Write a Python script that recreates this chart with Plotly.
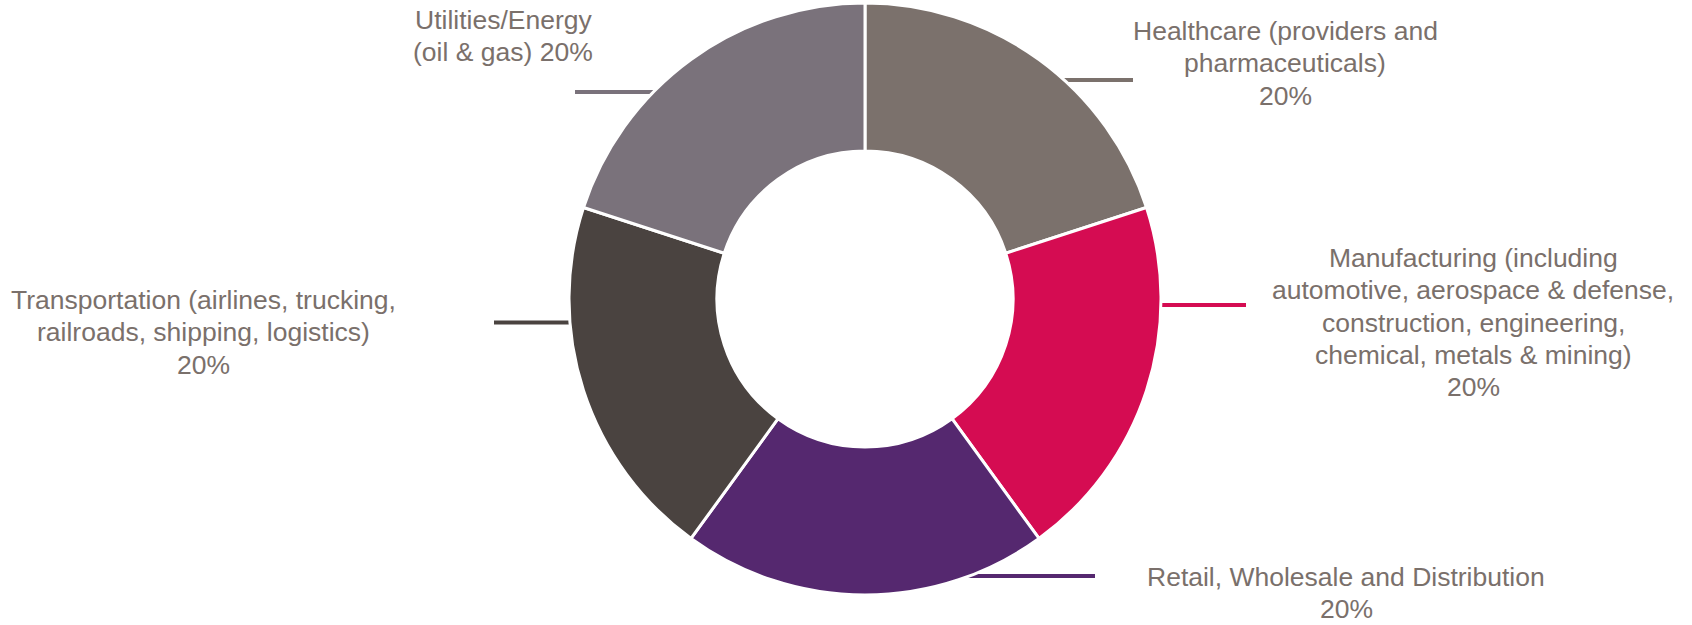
import plotly.graph_objects as go

W, H = 1692, 625

# Sector split of the portfolio
sectors = [
    "Healthcare (providers and pharmaceuticals)",
    "Manufacturing (including automotive, aerospace & defense, construction, engineering, chemical, metals & mining)",
    "Retail, Wholesale and Distribution",
    "Transportation (airlines, trucking, railroads, shipping, logistics)",
    "Utilities/Energy (oil & gas)",
]
shares = [20, 20, 20, 20, 20]

# Styling
colors = ["#7B716C", "#D50C52", "#55286F", "#4A4340", "#7A727B"]
TEXT_COLOR = "#7A706B"
FONT = "Liberation Sans, Arial, sans-serif"
FONT_SIZE = 26.5
LINE_STEP = 32.3

# Wrapped label text, "{pct}" is filled from the share values
label_lines = [
    ["Healthcare (providers and", "pharmaceuticals)", "{pct}"],
    ["Manufacturing (including", "automotive, aerospace & defense,",
     "construction, engineering,", "chemical, metals & mining)", "{pct}"],
    ["Retail, Wholesale and Distribution", "{pct}"],
    ["Transportation (airlines, trucking,", "railroads, shipping, logistics)", "{pct}"],
    ["Utilities/Energy", "(oil & gas) {pct}"],
]
# Label block placement in pixels: (centre x, first line centre y)
label_pos = [(1285, 31), (1473, 258), (1346, 577), (203, 300), (503, 20)]
# Leader lines in pixels: (y, x start, x end)
leaders = [(80, 1055, 1133), (305, 1150, 1246), (576, 965, 1095),
           (322.5, 494, 580), (92, 575, 665)]

# Donut geometry in pixels
CX, CY, R = 865, 299, 296

total = sum(shares)
pcts = [f"{round(100 * v / total)}%" for v in shares]

fig = go.Figure(
    go.Pie(
        labels=sectors,
        values=shares,
        hole=0.5,
        sort=False,
        direction="clockwise",
        rotation=0,
        textinfo="none",
        hoverinfo="label+percent",
        marker=dict(colors=colors, line=dict(color="white", width=3)),
        domain=dict(
            x=[(CX - R) / W, (CX + R) / W],
            y=[1 - (CY + R) / H, 1 - (CY - R) / H],
        ),
    )
)

def px(x):
    return x / W

def py(y):
    return 1 - y / H

annotations = []
shapes = []
for lines, (lx, ly), (yl, x0, x1), color, pct in zip(label_lines, label_pos, leaders, colors, pcts):
    for i, line in enumerate(lines):
        annotations.append(dict(
            x=px(lx), y=py(ly + i * LINE_STEP), xref="paper", yref="paper",
            text=line.replace("{pct}", pct), showarrow=False,
            xanchor="center", yanchor="middle",
            font=dict(family=FONT, size=FONT_SIZE, color=TEXT_COLOR),
        ))
    shapes.append(dict(
        type="line", xref="paper", yref="paper", layer="below",
        x0=px(x0), x1=px(x1), y0=py(yl), y1=py(yl),
        line=dict(color=color, width=4),
    ))

fig.update_layout(
    width=W, height=H,
    margin=dict(l=0, r=0, t=0, b=0),
    paper_bgcolor="white",
    plot_bgcolor="white",
    showlegend=False,
    annotations=annotations,
    shapes=shapes,
)

fig.write_html("out.html")
